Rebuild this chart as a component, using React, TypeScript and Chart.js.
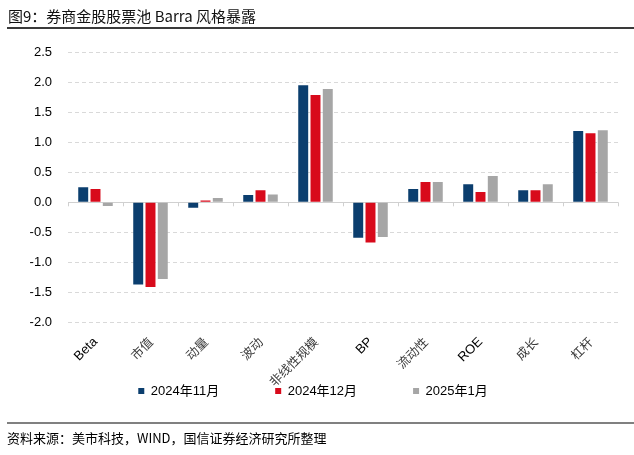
import React, { useEffect, useRef } from "react";
import { Chart, registerables } from "chart.js";

Chart.register(...registerables);

const categories = ["Beta", "市值", "动量", "波动", "非线性规模", "BP", "流动性", "ROE", "成长", "杠杆"];
const seriesNames = ["2024年11月", "2024年12月", "2025年1月"];
const nov2024 = [0.25, -1.37, -0.09, 0.12, 1.95, -0.59, 0.22, 0.3, 0.2, 1.19];
const dec2024 = [0.22, -1.41, 0.03, 0.2, 1.79, -0.67, 0.34, 0.17, 0.2, 1.15];
const jan2025 = [-0.06, -1.28, 0.07, 0.13, 1.89, -0.58, 0.34, 0.44, 0.3, 1.2];
const seriesColors = ["#0b3e6e", "#d80a1b", "#a6a6a6"];
const yMin = -2.0;
const yMax = 2.5;
const yStep = 0.5;

const title = "图9：券商金股股票池 Barra 风格暴露";
const source = "资料来源：美市科技，WIND，国信证券经济研究所整理";

const LATIN = "'Liberation Sans', Arial, 'Noto Sans CJK SC', sans-serif";
const CJK = "'Noto Sans CJK SC', 'Liberation Sans', sans-serif";

const isLatin = (s: string) => /^[A-Za-z0-9 ]+$/.test(s);

const zeroAxisTicks = {
  id: "zeroAxisTicks",
  beforeDatasetsDraw(chart: any) {
    const x = chart.scales.x;
    const y = chart.scales.y;
    const y0 = y.getPixelForValue(0);
    const n = chart.data.labels.length;
    const step = (x.right - x.left) / n;
    const ctx = chart.ctx;
    ctx.save();
    ctx.strokeStyle = "#d0d0d0";
    ctx.lineWidth = 1;
    ctx.beginPath();
    for (let i = 0; i <= n; i++) {
      const px = Math.round(x.left + i * step) + 0.5;
      ctx.moveTo(px, y0);
      ctx.lineTo(px, y0 + 4);
    }
    ctx.stroke();
    ctx.restore();
  },
};

export default function App() {
  const canvasRef = useRef<HTMLCanvasElement | null>(null);

  useEffect(() => {
    if (!canvasRef.current) return;
    const datasets = [nov2024, dec2024, jan2025].map((d, i) => ({
      label: seriesNames[i],
      data: d,
      backgroundColor: seriesColors[i],
      borderWidth: 0,
      categoryPercentage: 0.67,
      barPercentage: 0.81,
    }));
    const chart = new Chart(canvasRef.current, {
      type: "bar",
      data: { labels: categories, datasets },
      plugins: [zeroAxisTicks],
      options: {
        animation: false,
        responsive: true,
        maintainAspectRatio: false,
        layout: { padding: { top: 52.3, left: 8, right: 16, bottom: 47.5 } },
        plugins: {
          tooltip: { enabled: false },
          title: { display: false },
          legend: {
            position: "bottom",
            align: "center",
            labels: {
              boxWidth: 6,
              boxHeight: 6,
              padding: 56,
              color: "#000",
              font: { size: 13, family: LATIN },
            },
          },
        },
        scales: {
          x: {
            grid: { display: false, drawTicks: false },
            border: { display: false },
            ticks: {
              autoSkip: false,
              minRotation: 45,
              maxRotation: 45,
              padding: 12,
              color: (c: any) => (isLatin(categories[c.index] || "") ? "#000" : "#3a3a3a"),
              font: (c: any) =>
                isLatin(categories[c.index] || "")
                  ? { size: 13, family: LATIN }
                  : { size: 12.5, family: CJK },
            },
            afterFit: (s: any) => {
              s.height = 6.2;
              // let the rotated labels run below the (thin) axis box
              s._computeLabelArea = () => undefined;
            },
          },
          y: {
            min: yMin,
            max: yMax,
            grid: {
              color: (c: any) => (c.tick && c.tick.value === 0 ? "#d0d0d0" : "#d9d9d9"),
              lineWidth: 1,
              drawTicks: false,
            },
            border: {
              display: false,
              dash: (c: any) => (c.tick && c.tick.value === 0 ? [] : [4, 3]),
            },
            ticks: {
              stepSize: yStep,
              padding: 16,
              color: "#000",
              font: { size: 13, family: LATIN },
              callback: (v: any) => Number(v).toFixed(1),
            },
            afterFit: (s: any) => {
              s.width = 60;
            },
          },
        },
      },
    });
    return () => chart.destroy();
  }, []);

  return (
    <div style={{ position: "absolute", left: 0, top: 0, width: 634, height: 455, background: "#fff", overflow: "hidden" }}>
      <div style={{ position: "absolute", left: 0, top: 0, width: 634, height: 455 }}>
        <canvas ref={canvasRef} />
      </div>
      <div
        style={{
          position: "absolute",
          left: 8,
          top: 7,
          fontFamily: CJK,
          fontSize: 15,
          lineHeight: "18px",
          color: "#111",
          whiteSpace: "nowrap",
        }}
      >
        {title}
      </div>
      <div style={{ position: "absolute", left: 7, top: 27, width: 627, height: 2, background: "#3a3a3a" }} />
      <div style={{ position: "absolute", left: 7, top: 422, width: 627, height: 2, background: "#808080" }} />
      <div
        style={{
          position: "absolute",
          left: 7,
          top: 429,
          fontFamily: CJK,
          fontSize: 13,
          lineHeight: "18px",
          color: "#000",
          whiteSpace: "nowrap",
        }}
      >
        {source}
      </div>
    </div>
  );
}
